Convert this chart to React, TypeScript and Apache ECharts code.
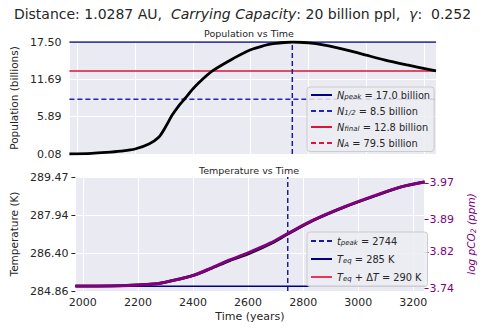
import React, { useEffect, useRef } from "react";
import * as echarts from "echarts";

const FONT = "DejaVu Sans";
const TXT = "#262626";

// Population panel
const popYears = [1973, 2050, 2100, 2150, 2200, 2248, 2282, 2305, 2328, 2350, 2373, 2395, 2418, 2469, 2542, 2600, 2644, 2678, 2744, 2800, 2836, 2904, 2983, 3062, 3141, 3241];
const popValues = [0.08, 0.17, 0.32, 0.53, 0.86, 1.64, 2.68, 4.25, 6.09, 7.5, 8.71, 9.95, 11.06, 13.04, 14.99, 16.3, 16.92, 17.25, 17.5, 17.38, 17.18, 16.56, 15.66, 14.72, 13.93, 13.0];
const popTicks = ["0.08", "5.89", "11.69", "17.50"];
const popMin = 0.08;
const popMax = 17.5;
const nPeak = 17.5;
const nHalf = 8.6;
const nFinal = 13.0;
const nA = 79.5;

// Temperature panel
const tYears = [1973, 2100, 2200, 2271, 2300, 2350, 2401, 2463, 2531, 2600, 2680, 2744, 2836, 2949, 3062, 3153, 3241];
const tempValues = [285.06, 285.07, 285.11, 285.16, 285.22, 285.34, 285.49, 285.76, 286.08, 286.36, 286.76, 287.16, 287.71, 288.25, 288.71, 289.06, 289.27];
const pco2Values = [3.746, 3.746, 3.748, 3.751, 3.754, 3.761, 3.769, 3.784, 3.802, 3.818, 3.839, 3.860, 3.889, 3.918, 3.943, 3.961, 3.972];
const tempTicks = ["284.86", "286.40", "287.94", "289.47"];
const tempMin = 284.86;
const tempMax = 289.47;
const pco2Ticks = [3.74, 3.82, 3.89, 3.97];
const pco2Min = 3.735;
const pco2Max = 3.983;
const tPeak = 2744;
const tEq = 285.05;
const tEqDelta = 290;

const xMin = 1973;
const xMax = 3241;

const legendText: Record<string, string> = {
  Npeak: "{i|N}{s|peak}{t| = 17.0 billion}",
  Nhalf: "{i|N}{s|1/2}{t| = 8.5 billion}",
  Nfinal: "{i|N}{s|final}{t| = 12.8 billion}",
  NA: "{i|N}{s|A}{t| = 79.5 billion}",
  tpeak: "{i|t}{s|peak}{t| = 2744}",
  Teq: "{i|T}{s|eq}{t| = 285 K}",
  TeqD: "{i|T}{s|eq}{t| + Δ}{i|T}{t| = 290 K}",
};

const LF = 9.8;
const rich = {
  i: { fontFamily: FONT, fontStyle: "italic", fontSize: LF, color: TXT },
  s: { fontFamily: FONT, fontStyle: "italic", fontSize: 7, color: TXT, padding: [4, 0, 0, 0] },
  t: { fontFamily: FONT, fontSize: LF, color: TXT },
};

function nearestLabel(v: number, min: number, max: number, labels: string[]) {
  const step = (max - min) / (labels.length - 1);
  const idx = Math.round((v - min) / step);
  return labels[Math.max(0, Math.min(labels.length - 1, idx))] ?? "";
}

export default function App() {
  const ref = useRef<HTMLDivElement>(null);
  useEffect(() => {
    document.body.style.margin = "0";
    if (!ref.current) return;
    const chart = echarts.init(ref.current, undefined, { renderer: "svg" });
    const hLine = (v: number) => [[xMin, v], [xMax, v]];
    const legendCommon = {
      orient: "vertical",
      itemWidth: 21,
      itemHeight: 10,
      padding: [3, 4, 3, 3],
      backgroundColor: "rgba(236,236,243,0.85)",
      borderColor: "#cccccc",
      borderWidth: 1,
      borderRadius: 3,
      itemStyle: { color: "rgba(0,0,0,0)", opacity: 0, borderWidth: 0 },
      formatter: (n: string) => legendText[n] ?? n,
      textStyle: { rich, fontFamily: FONT, fontSize: LF, color: TXT },
    };
    const lineSeries = (
      name: string,
      xi: number,
      yi: number,
      data: number[][],
      color: string,
      width: number,
      dashed: boolean,
      z: number,
      smooth = false
    ) => ({
      name,
      type: "line",
      xAxisIndex: xi,
      yAxisIndex: yi,
      data,
      symbol: "none",
      smooth: smooth ? 0.3 : false,
      color,
      itemStyle: { color },
      lineStyle: { color, width, type: dashed ? [5, 3] : "solid" },
      z,
    });
    const option: any = {
      animation: false,
      textStyle: { fontFamily: FONT },
      title: [
        {
          text: "Distance: 1.0287 AU,  {it|Carrying Capacity}: 20 billion ppl,  {it|γ}:  0.252",
          left: "center",
          top: 2,
          textStyle: {
            fontFamily: FONT,
            fontSize: 14,
            fontWeight: "normal",
            color: TXT,
            rich: { it: { fontFamily: FONT, fontSize: 14, fontStyle: "italic", color: TXT } },
          },
        },
        {
          text: "Population vs Time",
          left: 249,
          textAlign: "center",
          top: 28,
          padding: 0,
          textStyle: { fontFamily: FONT, fontSize: 9.5, fontWeight: "normal", color: TXT },
        },
        {
          text: "Temperature vs Time",
          left: 249,
          textAlign: "center",
          top: 165,
          padding: 0,
          textStyle: { fontFamily: FONT, fontSize: 9.5, fontWeight: "normal", color: TXT },
        },
      ],
      legend: [
        {
          ...legendCommon,
          left: 307,
          top: 87,
          itemGap: 5.5,
          data: ["Npeak", "Nhalf", "Nfinal", "NA"],
        },
        {
          ...legendCommon,
          left: 307,
          top: 232,
          itemGap: 7.5,
          padding: [4, 6, 4, 3],
          data: ["tpeak", "Teq", "TeqD"],
        },
      ],
      grid: [
        { left: 62, right: 49, top: 42, height: 112, show: true, backgroundColor: "#EAEAF2", borderWidth: 0 },
        { left: 62, right: 49, top: 177, height: 114, show: true, backgroundColor: "#EAEAF2", borderWidth: 0 },
      ],
      xAxis: [
        {
          type: "value",
          gridIndex: 0,
          min: xMin,
          max: xMax,
          splitNumber: 6,
          axisLine: { show: false },
          axisTick: { show: false },
          axisLabel: { show: false },
          splitLine: { show: true, lineStyle: { color: "#ffffff", width: 1 } },
        },
        {
          type: "value",
          gridIndex: 1,
          min: xMin,
          max: xMax,
          splitNumber: 6,
          name: "Time (years)",
          nameLocation: "middle",
          nameGap: 20,
          nameTextStyle: { fontFamily: FONT, fontSize: 11, color: TXT },
          axisLine: { show: false },
          axisTick: { show: false },
          axisLabel: {
            showMinLabel: false,
            showMaxLabel: false,
            margin: 6,
            fontFamily: FONT,
            fontSize: 11,
            color: TXT,
            formatter: (v: number) => String(v),
          },
          splitLine: { show: true, lineStyle: { color: "#ffffff", width: 1 } },
        },
      ],
      yAxis: [
        {
          type: "value",
          gridIndex: 0,
          min: popMin,
          max: popMax,
          interval: (popMax - popMin) / 3,
          name: "Population (billions)",
          nameLocation: "middle",
          nameGap: 41,
          nameTextStyle: { fontFamily: FONT, fontSize: 10.5, color: TXT },
          axisLine: { show: false },
          axisTick: { show: false },
          axisLabel: {
            margin: 8,
            fontFamily: FONT,
            fontSize: 11,
            color: TXT,
            formatter: (v: number) => nearestLabel(v, popMin, popMax, popTicks),
          },
          splitLine: { show: true, lineStyle: { color: "#ffffff", width: 1 } },
        },
        {
          type: "value",
          gridIndex: 1,
          min: tempMin,
          max: tempMax,
          interval: (tempMax - tempMin) / 3,
          name: "Temperature (K)",
          nameLocation: "middle",
          nameGap: 48,
          nameTextStyle: { fontFamily: FONT, fontSize: 10.5, color: TXT },
          axisLine: { show: false },
          axisTick: { show: true, length: 4, lineStyle: { color: TXT } },
          axisLabel: {
            margin: 7,
            fontFamily: FONT,
            fontSize: 11,
            color: TXT,
            formatter: (v: number) => nearestLabel(v, tempMin, tempMax, tempTicks),
          },
          splitLine: { show: true, lineStyle: { color: "#ffffff", width: 1 } },
        },
        {
          type: "value",
          gridIndex: 1,
          position: "right",
          min: pco2Min,
          max: pco2Max,
          name: "{n|log pCO}{s|2}{n| (ppm)}",
          nameLocation: "middle",
          nameGap: 31,
          nameTextStyle: {
            rich: {
              n: { fontFamily: FONT, fontStyle: "italic", fontSize: 10.5, color: "#800080" },
              s: { fontFamily: FONT, fontStyle: "italic", fontSize: 7.5, color: "#800080", padding: [5, 0, 0, 0] },
            },
          },
          axisLine: { show: false },
          axisTick: { show: true, length: 4, customValues: pco2Ticks, lineStyle: { color: "#800080" } },
          axisLabel: {
            customValues: pco2Ticks,
            margin: 5,
            fontFamily: FONT,
            fontSize: 11,
            color: "#800080",
            formatter: (v: number) => v.toFixed(2),
          },
          splitLine: { show: false },
        },
      ],
      series: [
        lineSeries("Npeak", 0, 0, hLine(nPeak), "#000080", 1.5, false, 3),
        lineSeries("Nhalf", 0, 0, hLine(nHalf), "#2525b0", 1.5, true, 3),
        lineSeries("Nfinal", 0, 0, hLine(nFinal), "#DC143C", 1.5, false, 3),
        lineSeries("NA", 0, 0, hLine(nA), "#DC143C", 1.5, true, 3),
        lineSeries("peakTop", 0, 0, [[tPeak, popMin], [tPeak, popMax]], "#1a1a9a", 1.5, true, 3),
        lineSeries("Population", 0, 0, popYears.map((y, i) => [y, popValues[i]]), "#000000", 2.8, false, 4, true),
        lineSeries("tpeak", 1, 1, [[tPeak, tempMin], [tPeak, tempMax]], "#1a1a9a", 1.5, true, 3),
        lineSeries("Teq", 1, 1, hLine(tEq), "#000080", 1.5, false, 3),
        lineSeries("TeqD", 1, 1, hLine(tEqDelta), "#E8365A", 1.5, false, 3),
        lineSeries("Temperature", 1, 1, tYears.map((y, i) => [y, tempValues[i]]), "#000000", 2.8, false, 4, true),
        lineSeries("pCO2", 1, 2, tYears.map((y, i) => [y, pco2Values[i]]), "#800080", 3, false, 5, true),
      ],
    };
    chart.setOption(option);
    return () => chart.dispose();
  }, []);
  return <div ref={ref} style={{ width: 485, height: 333 }} />;
}
